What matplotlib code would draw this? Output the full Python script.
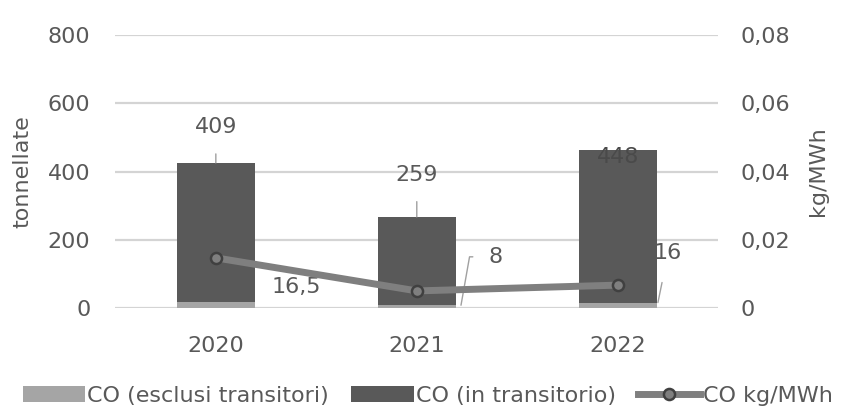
import numpy as np
import matplotlib.pyplot as plt

plt.rcParams['font.family'] = ['DejaVu Sans']

years = ["2020", "2021", "2022"]
esclusi = [16.5, 8, 16]
transitorio = [409, 259, 448]
kg_mwh = [0.0147, 0.005, 0.0067]
esclusi_lbl = ["16,5", "8", "16"]

pos = np.arange(len(years))
txt = '#595959'
fs = 16

fig = plt.figure(figsize=(8.42, 4.19), dpi=100)
ax = fig.add_axes([0.137, 0.265, 0.716, 0.651])
ax2 = ax.twinx()

b1 = ax.bar(pos, esclusi, width=0.39, color='#a5a5a5', label='CO (esclusi transitori)', zorder=2)
b2 = ax.bar(pos, transitorio, width=0.39, bottom=esclusi, color='#595959', label='CO (in transitorio)', zorder=2)
ln, = ax2.plot(pos, kg_mwh, color='#7f7f7f', lw=5, marker='o', ms=8,
               mfc='#7f7f7f', mec='#404040', mew=1.8, label='CO kg/MWh', zorder=3)

ax.set_xlim(-0.5, 2.5)
ax.set_ylim(0, 800)
ax.set_yticks(np.arange(0, 801, 200))
ax2.set_ylim(0, 0.08)
ax2.set_yticks([0, 0.02, 0.04, 0.06, 0.08])
ax2.set_yticklabels(["0", "0,02", "0,04", "0,06", "0,08"])
ax.set_xticks(pos, years)

ax.grid(axis='y', color='#d4d4d4', lw=1.6, zorder=0)
ax.set_axisbelow(True)
for a in (ax, ax2):
    for s in a.spines.values():
        s.set_visible(False)
    a.tick_params(length=0, labelsize=fs, colors=txt)
ax.tick_params(axis='x', pad=20)
ax.tick_params(axis='y', pad=18)
ax2.tick_params(axis='y', pad=16)
ax.set_ylabel('tonnellate', fontsize=fs, color=txt, labelpad=11)
ax2.set_ylabel('kg/MWh', fontsize=fs, color=txt, labelpad=13)

lead = dict(arrowstyle='-', color='#a0a0a0', lw=1)

# labels for transitorio
tops = [e + t for e, t in zip(esclusi, transitorio)]
ax.annotate(str(transitorio[0]), xy=(pos[0], tops[0]), xytext=(pos[0], 530),
            ha='center', va='center', fontsize=fs, color=txt,
            arrowprops=dict(lead, shrinkA=10, shrinkB=0))
ax.annotate(str(transitorio[1]), xy=(pos[1], tops[1]), xytext=(pos[1], 390),
            ha='center', va='center', fontsize=fs, color=txt,
            arrowprops=dict(lead, shrinkA=10, shrinkB=0))
ax.text(pos[2], 442, str(transitorio[2]), ha='center', va='center',
        fontsize=fs, color='#4a4a4a')

# labels for esclusi
ax.text(pos[0] + 0.40, 62, esclusi_lbl[0], ha='center', va='center', fontsize=fs, color=txt)
ax.annotate(esclusi_lbl[1], xy=(pos[1] + 0.22, esclusi[1]), xytext=(pos[1] + 0.39, 150),
            ha='center', va='center', fontsize=fs, color=txt,
            arrowprops=dict(lead, shrinkA=9, shrinkB=0,
                            connectionstyle='angle,angleA=0,angleB=80,rad=0'))
ax.annotate(esclusi_lbl[2], xy=(pos[2] + 0.2, esclusi[2]), xytext=(pos[2] + 0.25, 160),
            ha='center', va='center', fontsize=fs, color=txt,
            arrowprops=dict(lead, shrinkA=12, shrinkB=0))

fig.legend([b1, b2, ln], [b1.get_label(), b2.get_label(), ln.get_label()],
           loc='center', bbox_to_anchor=(0.508, 0.055), ncol=3, frameon=False,
           fontsize=fs, labelcolor=txt, handlelength=2.8, handleheight=0.75,
           handletextpad=0.1, columnspacing=1.0, borderaxespad=0)

fig.savefig('out.png', dpi=100)
